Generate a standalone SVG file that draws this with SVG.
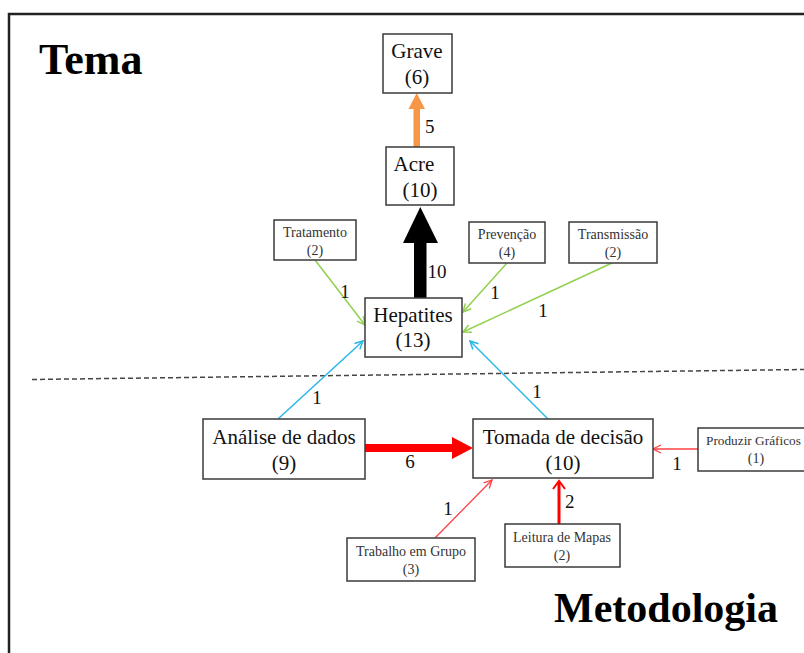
<svg xmlns="http://www.w3.org/2000/svg" width="804" height="653" viewBox="0 0 804 653">
  <style>
    .box { fill: #fff; stroke: #3a3a3a; stroke-width: 1.5; }
    .big { font-family: "Liberation Serif", "Times New Roman", serif; font-size: 21px; fill: #111; text-anchor: middle; }
    .small { font-family: "Liberation Serif", "Times New Roman", serif; font-size: 14px; fill: #333; text-anchor: middle; }
    .lbl { font-family: "Liberation Serif", "Times New Roman", serif; font-size: 19px; fill: #111; text-anchor: middle; }
    .title { font-family: "Liberation Serif", "Times New Roman", serif; font-weight: bold; fill: #000; }
    .green { stroke: #92d050; stroke-width: 1.5; fill: none; }
    .blue { stroke: #29b6e8; stroke-width: 1.5; fill: none; }
    .red { stroke: #ff4040; stroke-width: 1.3; fill: none; }
  </style>
  <defs>
    <marker id="openGreen" markerWidth="10" markerHeight="10" refX="9" refY="5" orient="auto" markerUnits="userSpaceOnUse">
      <path d="M1,1 L9,5 L1,9" fill="none" stroke="#92d050" stroke-width="1.5"/>
    </marker>
    <marker id="openBlue" markerWidth="10" markerHeight="10" refX="9" refY="5" orient="auto" markerUnits="userSpaceOnUse">
      <path d="M1,1 L9,5 L1,9" fill="none" stroke="#29b6e8" stroke-width="1.5"/>
    </marker>
    <marker id="openRed" markerWidth="10" markerHeight="10" refX="9" refY="5" orient="auto" markerUnits="userSpaceOnUse">
      <path d="M1,1 L9,5 L1,9" fill="none" stroke="#ff4040" stroke-width="1.3"/>
    </marker>
  </defs>

  <rect x="0" y="0" width="804" height="653" fill="#fff"/>
  <!-- outer frame -->
  <rect x="9" y="14" width="810" height="660" fill="none" stroke="#222" stroke-width="2.5"/>

  <text class="title" x="39" y="74" font-size="44">Tema</text>
  <text class="title" x="554" y="622" font-size="42">Metodologia</text>

  <!-- divider between the two halves -->
  <line x1="32" y1="379.5" x2="804" y2="369.5" stroke="#444" stroke-width="1.5" stroke-dasharray="5,3"/>

  <g id="connectors">
    <!-- Acre -> Grave -->
    <rect x="413.5" y="108" width="6.5" height="39" fill="#f79646"/>
    <polygon points="408.5,109 425,109 416.7,93" fill="#f79646"/>
    <text class="lbl" x="425" y="133" style="text-anchor:start">5</text>

    <!-- Hepatites -> Acre -->
    <rect x="414" y="242" width="12.5" height="56" fill="#000"/>
    <polygon points="403,243 438,243 420.3,207" fill="#000"/>
    <text class="lbl" x="437" y="278">10</text>

    <!-- theme inputs into Hepatites -->
    <line class="green" x1="315" y1="260" x2="365" y2="325" marker-end="url(#openGreen)"/>
    <text class="lbl" x="345" y="298">1</text>
    <line class="green" x1="507" y1="263" x2="463" y2="312" marker-end="url(#openGreen)"/>
    <text class="lbl" x="495" y="299">1</text>
    <line class="green" x1="612" y1="263" x2="463" y2="332" marker-end="url(#openGreen)"/>
    <text class="lbl" x="543" y="317">1</text>

    <!-- methodology into Hepatites -->
    <line class="blue" x1="278" y1="419" x2="363" y2="341" marker-end="url(#openBlue)"/>
    <text class="lbl" x="317" y="404">1</text>
    <line class="blue" x1="548" y1="419" x2="470" y2="341" marker-end="url(#openBlue)"/>
    <text class="lbl" x="537" y="398">1</text>

    <!-- Análise -> Tomada -->
    <rect x="365" y="444" width="88" height="8" fill="#ff0000"/>
    <polygon points="452,437 452,459 473,448" fill="#ff0000"/>
    <text class="lbl" x="410" y="468">6</text>

    <!-- inputs into Tomada de decisão -->
    <line class="red" x1="698" y1="449" x2="653" y2="449" marker-end="url(#openRed)"/>
    <text class="lbl" x="677" y="470">1</text>
    <line class="red" x1="435" y1="538" x2="492" y2="480" marker-end="url(#openRed)"/>
    <text class="lbl" x="448" y="515">1</text>
    <line x1="559" y1="524" x2="559" y2="483" stroke="#ff0000" stroke-width="3"/>
    <path d="M553,489 L559,481 L565,489" fill="none" stroke="#ff0000" stroke-width="2"/>
    <text class="lbl" x="565" y="508" style="text-anchor:start">2</text>
  </g>

  <g id="grave">
    <rect class="box" x="383" y="34" width="69" height="59"/>
    <text class="big" x="417" y="58">Grave</text>
    <text class="big" x="417" y="84">(6)</text>
  </g>

  <g id="acre">
    <rect class="box" x="386" y="147" width="68" height="58"/>
    <text class="big" x="414" y="171">Acre</text>
    <text class="big" x="420" y="197">(10)</text>
  </g>

  <g id="tratamento">
    <rect class="box" x="274" y="220" width="82" height="40"/>
    <text class="small" x="315" y="237">Tratamento</text>
    <text class="small" x="315" y="255">(2)</text>
  </g>

  <g id="prevencao">
    <rect class="box" x="469" y="222" width="76" height="41"/>
    <text class="small" x="507" y="239">Prevenção</text>
    <text class="small" x="507" y="257">(4)</text>
  </g>

  <g id="transmissao">
    <rect class="box" x="569" y="222" width="88" height="41"/>
    <text class="small" x="613" y="239">Transmissão</text>
    <text class="small" x="613" y="257">(2)</text>
  </g>

  <g id="hepatites">
    <rect class="box" x="365" y="298" width="97" height="59"/>
    <text class="big" x="413" y="322">Hepatites</text>
    <text class="big" x="413" y="347">(13)</text>
  </g>

  <g id="analise">
    <rect class="box" x="203" y="419" width="162" height="60"/>
    <text class="big" x="284" y="444">Análise de dados</text>
    <text class="big" x="284" y="470">(9)</text>
  </g>

  <g id="tomada">
    <rect class="box" x="473" y="419" width="180" height="59"/>
    <text class="big" x="563" y="444">Tomada de decisão</text>
    <text class="big" x="563" y="470">(10)</text>
  </g>

  <g id="produzir">
    <rect class="box" x="698" y="428" width="120" height="43"/>
    <text class="small" x="706" y="445" style="text-anchor:start; font-size:13.3px">Produzir Gráficos</text>
    <text class="small" x="756" y="463">(1)</text>
  </g>

  <g id="trabalho">
    <rect class="box" x="347" y="538" width="128" height="43"/>
    <text class="small" x="411" y="556">Trabalho em Grupo</text>
    <text class="small" x="411" y="574">(3)</text>
  </g>

  <g id="leitura">
    <rect class="box" x="505" y="524" width="115" height="43"/>
    <text class="small" x="562" y="542">Leitura de Mapas</text>
    <text class="small" x="562" y="560">(2)</text>
  </g>
</svg>
